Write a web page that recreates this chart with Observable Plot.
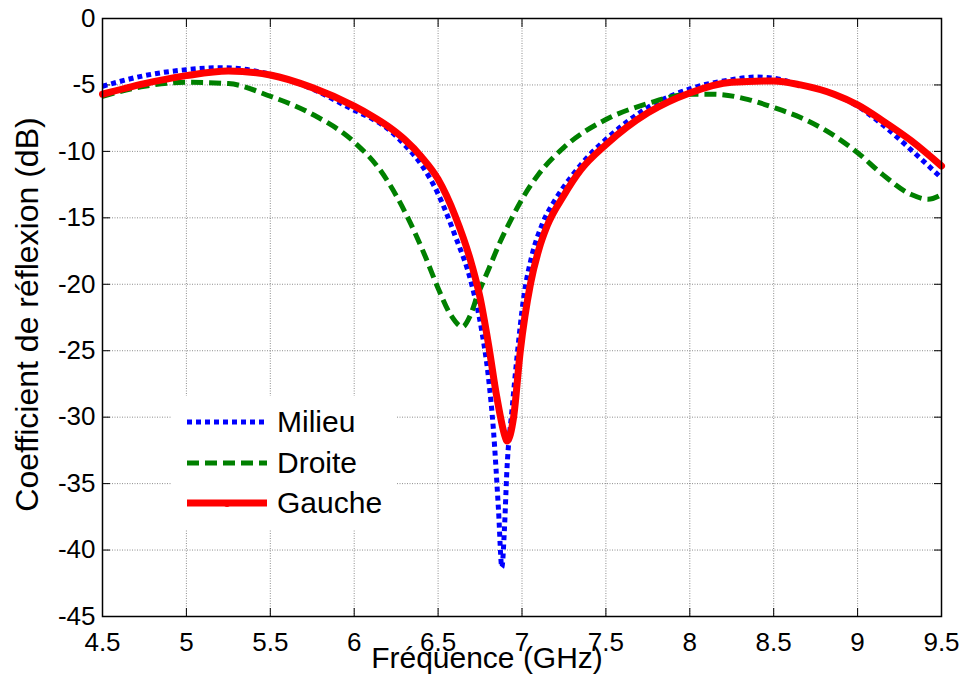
<!DOCTYPE html>
<html>
<head>
<meta charset="utf-8">
<script src="https://cdn.jsdelivr.net/npm/d3@7"></script>
<script src="https://cdn.jsdelivr.net/npm/@observablehq/plot@0.6"></script>
<style>
  html, body { margin: 0; padding: 0; background: #fff; }
  #wrap { position: relative; width: 963px; height: 675px; font-family: "Liberation Sans", Arial, sans-serif; }
  #legend { position: absolute; left: 172px; top: 396px; width: 224px; height: 134px; background: #fff; }
  .row { position: absolute; left: 0; height: 40px; }
  .row svg { position: absolute; left: 13px; top: 0; }
  .row span { position: absolute; left: 105px; top: 0; line-height: 40px; font-size: 30px; color: #000; white-space: nowrap; }
</style>
</head>
<body>
<div id="wrap"></div>
<script>
// ---- data ----
const xTicks = [4.5, 5, 5.5, 6, 6.5, 7, 7.5, 8, 8.5, 9, 9.5];
const yTicks = [0, -5, -10, -15, -20, -25, -30, -35, -40, -45];

const freqMilieu = [4.5, 4.75, 5.0, 5.2, 5.5, 5.75, 6.0, 6.1, 6.2, 6.3, 6.4, 6.5, 6.6, 6.7, 6.76, 6.8, 6.83, 6.86, 6.88, 6.895, 6.91, 6.94, 6.97, 7.01, 7.06, 7.12, 7.2, 7.3, 7.4, 7.5, 7.75, 8.0, 8.25, 8.4, 8.5, 8.66, 8.86, 9.0, 9.15, 9.32, 9.5];
const milieu     = [-5.1, -4.3, -3.85, -3.7, -4.2, -5.3, -6.9, -7.5, -8.3, -9.5, -11.0, -13.2, -16.3, -20, -23.5, -27, -31, -37, -41.3, -38.5, -34, -29.5, -25.5, -21, -17.8, -15.5, -13.6, -11.8, -10.3, -9.1, -6.7, -5.3, -4.6, -4.4, -4.5, -5.0, -5.7, -6.6, -8.0, -9.9, -12.0];

const freqDroite = [4.5, 4.75, 5.0, 5.25, 5.5, 5.75, 6.0, 6.16, 6.32, 6.42, 6.5, 6.575, 6.645, 6.69, 6.73, 6.8, 6.87, 6.94, 7.0, 7.1, 7.25, 7.5, 7.75, 8.0, 8.14, 8.35, 8.5, 8.66, 8.82, 9.0, 9.15, 9.32, 9.42, 9.5];
const droite     = [-5.85, -5.1, -4.8, -4.9, -5.85, -7.2, -9.3, -11.5, -15, -17.8, -20.3, -22.3, -23.2, -22.4, -21.0, -18.9, -16.8, -15.0, -13.6, -11.7, -9.7, -7.6, -6.4, -5.7, -5.7, -6.1, -6.7, -7.45, -8.5, -10.1, -11.75, -13.25, -13.6, -13.25];

const freqGauche = [4.5, 4.75, 5.0, 5.25, 5.5, 5.75, 6.0, 6.1, 6.2, 6.3, 6.4, 6.5, 6.6, 6.7, 6.75, 6.8, 6.85, 6.9, 6.91, 6.95, 6.99, 7.05, 7.1, 7.15, 7.25, 7.35, 7.5, 7.75, 8.0, 8.25, 8.5, 8.66, 8.86, 9.0, 9.15, 9.32, 9.5];
const gauche     = [-5.7, -4.9, -4.3, -3.95, -4.25, -5.2, -6.6, -7.3, -8.1, -9.1, -10.4, -12.1, -14.8, -18.5, -21, -24.5, -28.5, -31.5, -31.8, -30, -25, -20, -17.4, -15.6, -13.3, -11.4, -9.5, -7.1, -5.6, -4.8, -4.7, -5.0, -5.7, -6.5, -7.7, -9.2, -11.1];

const seriesNames = ["Milieu", "Droite", "Gauche"];
const xLabel = "Fréquence (GHz)";
const yLabel = "Coefficient de réflexion (dB)";

const fontFamily = '"Liberation Sans", Arial, sans-serif';
const fmt = d => String(d);

const chart = Plot.plot({
  width: 963,
  height: 675,
  marginLeft: 102,
  marginRight: 22,
  marginTop: 18,
  marginBottom: 59,
  style: { fontFamily, fontSize: "26px", background: "white", color: "black", overflow: "visible" },
  x: { domain: [4.5, 9.5] },
  y: { domain: [-45, 0] },
  marks: [
    Plot.gridX(xTicks, { stroke: "#000", strokeOpacity: 0.45, strokeDasharray: "1,1.5" }),
    Plot.gridY(yTicks, { stroke: "#000", strokeOpacity: 0.45, strokeDasharray: "1,1.5" }),
    // inward ticks
    Plot.axisX(xTicks, { anchor: "bottom", tickSize: 8, dy: -8, tickFormat: () => "", label: null, stroke: "#000" }),
    Plot.axisX(xTicks, { anchor: "top", tickSize: 8, dy: 8, tickFormat: () => "", label: null, stroke: "#000" }),
    Plot.axisY(yTicks, { anchor: "left", tickSize: 8, dx: 8, tickFormat: () => "", label: null, stroke: "#000" }),
    Plot.axisY(yTicks, { anchor: "right", tickSize: 8, dx: -8, tickFormat: () => "", label: null, stroke: "#000" }),
    // tick labels
    Plot.axisX(xTicks, { anchor: "bottom", tickSize: 0, tickPadding: 16, tickFormat: fmt, label: null, fontSize: 26 }),
    Plot.axisY(yTicks, { anchor: "left", tickSize: 0, tickPadding: 7, tickFormat: fmt, label: null, fontSize: 26 }),
    // curves
    Plot.line(milieu, { x: freqMilieu, y: milieu, stroke: "#0000ff", strokeWidth: 5, strokeDasharray: "5,4", strokeLinecap: "butt", curve: "monotone-x" }),
    Plot.line(droite, { x: freqDroite, y: droite, stroke: "#008000", strokeWidth: 5, strokeDasharray: "12,6", strokeLinecap: "butt", curve: "monotone-x" }),
    Plot.line(gauche, { x: freqGauche, y: gauche, stroke: "#ff0000", strokeWidth: 7, curve: "monotone-x" }),
    Plot.frame({ stroke: "#000", strokeWidth: 1.5 }),
    // axis labels
    Plot.text([xLabel], { frameAnchor: "bottom", text: d => d, textAnchor: "middle", lineAnchor: "middle", dx: -35, dy: 42, fontSize: 30, fill: "#000" }),
    Plot.text([yLabel], { frameAnchor: "left", text: d => d, textAnchor: "middle", lineAnchor: "middle", rotate: -90, dx: -75, dy: -3, fontSize: 32, fill: "#000" })
  ]
});

const wrap = document.getElementById("wrap");
wrap.appendChild(chart);

// legend
const legendStyles = [
  { stroke: "#0000ff", width: 5, dash: "5,4" },
  { stroke: "#008000", width: 5, dash: "12,6" },
  { stroke: "#ff0000", width: 7, dash: null }
];
const legend = document.createElement("div");
legend.id = "legend";
const rowTops = [6, 47, 87];
seriesNames.forEach((name, i) => {
  const row = document.createElement("div");
  row.className = "row";
  row.style.top = rowTops[i] + "px";
  row.style.width = "224px";
  const s = legendStyles[i];
  row.innerHTML = `<svg width="84" height="40"><line x1="2" y1="20" x2="82" y2="20" stroke="${s.stroke}" stroke-width="${s.width}" ${s.dash ? `stroke-dasharray="${s.dash}"` : ""}/>${i === 2 ? `<circle cx="42" cy="21" r="3" fill="${s.stroke}"/>` : ""}</svg><span>${name}</span>`;
  legend.appendChild(row);
});
wrap.appendChild(legend);
</script>
</body>
</html>
